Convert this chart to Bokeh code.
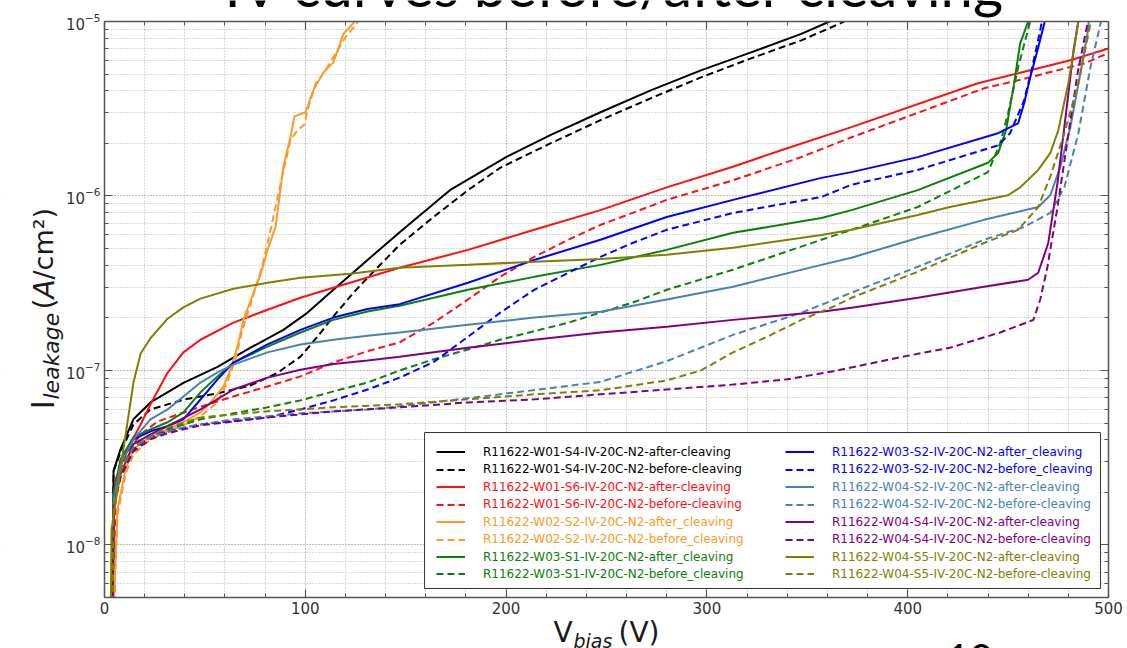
import math
from bokeh.plotting import figure
from bokeh.models import (LinearAxis, LogAxis, Legend, LegendItem, Label, BoxAnnotation,
                          SingleIntervalTicker, LogTicker, Range1d, CustomJSTickFormatter)
from bokeh.embed import file_html
from bokeh.resources import INLINE

# ---------------- data (bias voltage V, leakage current A/cm^2) ----------------
v_w01s4_after = [4, 4.5, 8, 14.4, 22.9, 39.3, 56.3, 72.7, 89.1, 101, 114, 131, 147, 172, 200, 222, 247, 272, 297, 322, 347, 362, 370]
i_w01s4_after = [3e-9, 2.65e-8, 3.54e-8, 5.25e-8, 6.56e-8, 8.5e-8, 1.05e-7, 1.35e-7, 1.71e-7, 2.14e-7, 2.9e-7, 4.3e-7, 6.2e-7, 1.08e-6, 1.67e-6, 2.23e-6, 3.02e-6, 4.03e-6, 5.25e-6, 6.65e-6, 8.5e-6, 1.01e-5, 1.15e-5]

v_w01s4_before = [4, 4.5, 8, 14.4, 22.9, 39.3, 56.3, 72.7, 86.2, 97.6, 106, 114, 124, 131, 147, 164, 181, 197, 222, 247, 272, 297, 322, 347, 366, 374]
i_w01s4_before = [3e-9, 2.65e-8, 3.4e-8, 4.9e-8, 5.98e-8, 6.8e-8, 7.4e-8, 8.2e-8, 9.7e-8, 1.2e-7, 1.56e-7, 2.04e-7, 2.79e-7, 3.4e-7, 5.25e-7, 7.6e-7, 1.08e-6, 1.45e-6, 2.0e-6, 2.72e-6, 3.63e-6, 4.78e-6, 6.15e-6, 7.8e-6, 9.7e-6, 1.08e-5]

v_w01s6_after = [4, 4.8, 5.5, 11.4, 18, 22.9, 31.4, 39.3, 47.8, 64.2, 81.2, 97.6, 114, 147, 181, 214, 247, 280, 313, 337, 372, 435, 455, 481, 500]
i_w01s6_after = [3e-9, 2e-8, 2.38e-8, 3.54e-8, 4.9e-8, 6.4e-8, 9.7e-8, 1.27e-7, 1.5e-7, 1.88e-7, 2.23e-7, 2.61e-7, 2.98e-7, 3.88e-7, 4.91e-7, 6.4e-7, 8.3e-7, 1.12e-6, 1.47e-6, 1.83e-6, 2.48e-6, 4.43e-6, 5.05e-6, 6.0e-6, 7.0e-6]

v_w01s6_before = [5, 5.5, 10.5, 18, 26.4, 47.8, 64.2, 81.2, 97.6, 114, 131, 147, 164, 181, 197, 214, 231, 247, 263, 280, 313, 347, 372, 438, 455, 488, 500]
i_w01s6_before = [3e-9, 1.83e-8, 3.3e-8, 4.3e-8, 5.1e-8, 6.2e-8, 7.1e-8, 8.1e-8, 9.25e-8, 1.11e-7, 1.29e-7, 1.45e-7, 1.88e-7, 2.55e-7, 3.44e-7, 4.48e-7, 5.61e-7, 6.83e-7, 8.0e-7, 9.5e-7, 1.23e-6, 1.67e-6, 2.17e-6, 4.14e-6, 4.6e-6, 5.75e-6, 6.6e-6]

v_w02s2_after = [4, 6.5, 10.5, 14.4, 22.9, 31.4, 39.3, 47.8, 52.8, 59.3, 62.7, 66.2, 69.2, 74.2, 77.7, 81.2, 85.2, 89.1, 92.6, 94.6, 100.1, 104, 109, 114, 119, 125, 130]
i_w02s2_after = [3e-9, 1.61e-8, 2.72e-8, 3.54e-8, 4.2e-8, 4.6e-8, 5.05e-8, 5.75e-8, 6.56e-8, 8.1e-8, 1.01e-7, 1.37e-7, 1.95e-7, 2.79e-7, 3.54e-7, 4.91e-7, 6.65e-7, 1.47e-6, 2.17e-6, 2.86e-6, 3.02e-6, 4.03e-6, 5.11e-6, 5.83e-6, 8.5e-6, 1.01e-5, 1.3e-5]

v_w02s2_before = [4, 6.5, 10.5, 14.4, 22.9, 31.4, 39.3, 47.8, 56.3, 61.3, 65.2, 68.7, 73.7, 78.7, 82.7, 87.6, 92.6, 96.1, 99.6, 101.1, 105, 110, 120, 126, 132]
i_w02s2_before = [3e-9, 1.5e-8, 2.55e-8, 3.31e-8, 4.03e-8, 4.48e-8, 4.85e-8, 5.46e-8, 6.56e-8, 8.65e-8, 1.16e-7, 1.71e-7, 2.61e-7, 4.03e-7, 6.4e-7, 1.16e-6, 2.09e-6, 2.38e-6, 2.58e-6, 3.1e-6, 4.36e-6, 5.25e-6, 8.1e-6, 9.87e-6, 1.2e-5]

v_w03s1_after = [4, 4.5, 8, 14.4, 22.9, 31.4, 39.3, 47.8, 56.3, 64.2, 81.2, 97.6, 114, 131, 147, 181, 214, 247, 280, 313, 357, 372, 405, 440, 445, 449, 453, 456, 460, 462]
i_w03s1_after = [3e-9, 1.95e-8, 3.1e-8, 4.14e-8, 4.6e-8, 5.05e-8, 5.75e-8, 7.5e-8, 9.25e-8, 1.11e-7, 1.37e-7, 1.65e-7, 1.95e-7, 2.18e-7, 2.35e-7, 2.9e-7, 3.44e-7, 4.03e-7, 4.91e-7, 6.15e-7, 7.48e-7, 8.3e-7, 1.08e-6, 1.55e-6, 1.76e-6, 2.38e-6, 4.43e-6, 7.5e-6, 1e-5, 1.2e-5]

v_w03s1_before = [4, 4.5, 8, 14.4, 22.9, 31.4, 47.8, 64.2, 81.2, 97.6, 114, 131, 147, 164, 181, 197, 231, 263, 280, 313, 357, 372, 405, 440, 446, 450, 455, 461, 463]
i_w03s1_before = [3e-9, 1.71e-8, 2.72e-8, 3.68e-8, 4.2e-8, 4.6e-8, 5.25e-8, 5.68e-8, 6.15e-8, 6.74e-8, 7.59e-8, 8.53e-8, 1.0e-7, 1.16e-7, 1.32e-7, 1.5e-7, 1.88e-7, 2.45e-7, 2.9e-7, 3.78e-7, 5.61e-7, 6.4e-7, 8.65e-7, 1.37e-6, 2.0e-6, 2.98e-6, 5.46e-6, 1e-5, 1.2e-5]

v_w03s2_after = [4, 4.5, 8, 14.4, 22.9, 31.4, 39.3, 47.8, 56.3, 64.2, 81.2, 97.6, 114, 131, 147, 181, 214, 247, 280, 313, 357, 372, 405, 445, 455, 458, 461, 465, 468, 469]
i_w03s2_after = [3e-9, 1.83e-8, 2.9e-8, 4.03e-8, 4.48e-8, 4.79e-8, 5.25e-8, 6.82e-8, 8.9e-8, 1.11e-7, 1.41e-7, 1.71e-7, 2.01e-7, 2.25e-7, 2.4e-7, 3.18e-7, 4.3e-7, 5.61e-7, 7.58e-7, 9.5e-7, 1.27e-6, 1.37e-6, 1.67e-6, 2.29e-6, 2.61e-6, 3.4e-6, 4.78e-6, 7.1e-6, 9.7e-6, 1.2e-5]

v_w03s2_before = [4, 4.5, 8, 14.4, 22.9, 31.4, 47.8, 81.2, 97.6, 114, 131, 147, 164, 181, 197, 214, 231, 247, 263, 280, 313, 357, 372, 405, 445, 451, 458, 462, 466, 468]
i_w03s2_before = [3e-9, 1.71e-8, 2.55e-8, 3.54e-8, 4.14e-8, 4.48e-8, 4.91e-8, 5.38e-8, 5.98e-8, 6.74e-8, 7.78e-8, 9.1e-8, 1.12e-7, 1.56e-7, 2.14e-7, 2.9e-7, 3.63e-7, 4.48e-7, 5.38e-7, 6.4e-7, 8.0e-7, 9.87e-7, 1.16e-6, 1.41e-6, 1.95e-6, 2.29e-6, 3.54e-6, 5.46e-6, 8.9e-6, 1.2e-5]

v_w04s2_after = [4, 4.5, 8, 14.4, 22.9, 31.4, 39.3, 47.8, 56.3, 64.2, 81.2, 97.6, 114, 131, 147, 181, 214, 247, 280, 313, 357, 372, 405, 438, 465, 471, 476, 481, 486, 489.5, 491]
i_w04s2_after = [3e-9, 1.83e-8, 2.9e-8, 4.03e-8, 5.25e-8, 5.98e-8, 7.1e-8, 8.53e-8, 9.75e-8, 1.08e-7, 1.27e-7, 1.41e-7, 1.5e-7, 1.58e-7, 1.65e-7, 1.83e-7, 2.01e-7, 2.17e-7, 2.55e-7, 3.02e-7, 4.03e-7, 4.43e-7, 5.75e-7, 7.3e-7, 8.65e-7, 1.01e-6, 1.47e-6, 2.48e-6, 5.05e-6, 8.5e-6, 1.2e-5]

v_w04s2_before = [4, 4.5, 8, 14.4, 22.9, 39.3, 64.2, 97.6, 131, 147, 197, 247, 280, 313, 347, 372, 405, 438, 458, 471, 478, 485, 491, 496, 498]
i_w04s2_before = [3e-9, 1.71e-8, 2.72e-8, 3.63e-8, 4.14e-8, 4.72e-8, 5.25e-8, 5.68e-8, 5.98e-8, 6.23e-8, 7.3e-8, 8.6e-8, 1.13e-7, 1.6e-7, 2.14e-7, 2.79e-7, 3.93e-7, 5.61e-7, 6.65e-7, 8.0e-7, 1.12e-6, 2.29e-6, 5.46e-6, 9.7e-6, 1.2e-5]

v_w04s4_after = [4, 4.5, 8, 14.4, 22.9, 31.4, 47.8, 64.2, 81.2, 97.6, 114, 131, 147, 181, 214, 247, 280, 313, 357, 372, 405, 438, 460, 465, 470, 474.6, 478.6, 482.6, 485, 487]
i_w04s4_after = [3e-9, 1.61e-8, 2.55e-8, 3.78e-8, 4.3e-8, 4.79e-8, 5.98e-8, 7.78e-8, 9.1e-8, 1.01e-7, 1.09e-7, 1.14e-7, 1.2e-7, 1.35e-7, 1.5e-7, 1.65e-7, 1.78e-7, 1.95e-7, 2.17e-7, 2.29e-7, 2.61e-7, 3.02e-7, 3.31e-7, 3.63e-7, 5.38e-7, 1.19e-6, 2.83e-6, 6.83e-6, 1.01e-5, 1.3e-5]

v_w04s4_before = [4, 4.5, 8, 14.4, 22.9, 31.4, 47.8, 81.2, 114, 147, 181, 214, 247, 280, 313, 340, 363, 396, 421, 446, 462.6, 466, 469.6, 474.6, 479.6, 484.6, 489.5, 491]
i_w04s4_before = [3e-9, 1.61e-8, 2.45e-8, 3.44e-8, 4.03e-8, 4.37e-8, 4.85e-8, 5.38e-8, 5.83e-8, 6.15e-8, 6.56e-8, 6.83e-8, 7.3e-8, 7.78e-8, 8.3e-8, 8.9e-8, 9.9e-8, 1.19e-7, 1.35e-7, 1.65e-7, 1.95e-7, 2.55e-7, 3.93e-7, 8.65e-7, 2.09e-6, 5.05e-6, 9.7e-6, 1.2e-5]

v_w04s5_after = [3, 3.5, 6.5, 9, 11.4, 14.4, 18, 22.9, 31.4, 39.3, 47.8, 64.2, 81.2, 97.6, 122.5, 147, 181, 214, 247, 280, 313, 357, 372, 405, 421, 450, 456, 465, 471, 475, 480, 483, 485, 486]
i_w04s5_after = [3e-9, 1.23e-8, 2.09e-8, 3.3e-8, 5.0e-8, 8.5e-8, 1.25e-7, 1.53e-7, 1.98e-7, 2.3e-7, 2.58e-7, 2.94e-7, 3.18e-7, 3.4e-7, 3.58e-7, 3.88e-7, 4.03e-7, 4.2e-7, 4.36e-7, 4.6e-7, 5.05e-7, 5.98e-7, 6.4e-7, 7.78e-7, 8.65e-7, 1.01e-6, 1.12e-6, 1.41e-6, 1.76e-6, 2.38e-6, 4.43e-6, 7.1e-6, 1e-5, 1.2e-5]

v_w04s5_before = [4, 4.5, 8, 14.4, 22.9, 31.4, 47.8, 81.2, 114, 147, 181, 214, 247, 280, 297, 313, 330, 347, 363, 372, 405, 438, 455, 465, 471, 478, 485, 491, 493]
i_w04s5_before = [3e-9, 1.71e-8, 2.65e-8, 3.63e-8, 4.2e-8, 4.72e-8, 5.38e-8, 5.83e-8, 6.15e-8, 6.4e-8, 6.83e-8, 7.3e-8, 7.7e-8, 8.77e-8, 1.0e-7, 1.27e-7, 1.56e-7, 1.95e-7, 2.32e-7, 2.61e-7, 3.68e-7, 5.38e-7, 6.4e-7, 8.65e-7, 1.29e-6, 2.29e-6, 4.43e-6, 9.7e-6, 1.2e-5]

labels = [
    "R11622-W01-S4-IV-20C-N2-after-cleaving",
    "R11622-W01-S4-IV-20C-N2-before-cleaving",
    "R11622-W01-S6-IV-20C-N2-after-cleaving",
    "R11622-W01-S6-IV-20C-N2-before-cleaving",
    "R11622-W02-S2-IV-20C-N2-after_cleaving",
    "R11622-W02-S2-IV-20C-N2-before_cleaving",
    "R11622-W03-S1-IV-20C-N2-after_cleaving",
    "R11622-W03-S1-IV-20C-N2-before_cleaving",
    "R11622-W03-S2-IV-20C-N2-after_cleaving",
    "R11622-W03-S2-IV-20C-N2-before_cleaving",
    "R11622-W04-S2-IV-20C-N2-after-cleaving",
    "R11622-W04-S2-IV-20C-N2-before-cleaving",
    "R11622-W04-S4-IV-20C-N2-after-cleaving",
    "R11622-W04-S4-IV-20C-N2-before-cleaving",
    "R11622-W04-S5-IV-20C-N2-after-cleaving",
    "R11622-W04-S5-IV-20C-N2-before-cleaving",
]
pair_colors = ["#000000", "#ff1010", "#fb9a26", "#0a800a", "#0000ff", "#4682b4", "#800080", "#808000"]

series = [
    (v_w01s4_after, i_w01s4_after), (v_w01s4_before, i_w01s4_before),
    (v_w01s6_after, i_w01s6_after), (v_w01s6_before, i_w01s6_before),
    (v_w02s2_after, i_w02s2_after), (v_w02s2_before, i_w02s2_before),
    (v_w03s1_after, i_w03s1_after), (v_w03s1_before, i_w03s1_before),
    (v_w03s2_after, i_w03s2_after), (v_w03s2_before, i_w03s2_before),
    (v_w04s2_after, i_w04s2_after), (v_w04s2_before, i_w04s2_before),
    (v_w04s4_after, i_w04s4_after), (v_w04s4_before, i_w04s4_before),
    (v_w04s5_after, i_w04s5_after), (v_w04s5_before, i_w04s5_before),
]

X_MIN, X_MAX = 0, 500          # plotted voltage range
Y_MIN, Y_MAX = 5e-9, 1e-5      # plotted current range

# ---------------- geometry: the frame spans the whole canvas; axes are pinned ----------------
W, H = 1127, 648
PL, PR, PT, PB = 104, 1108, 21, 597      # plot-area edges in canvas pixels
px_per_v = (PR - PL) / (X_MAX - X_MIN)
dec = (PB - PT) / (math.log10(Y_MAX) - math.log10(Y_MIN))
xr = Range1d(X_MIN - PL / px_per_v, X_MAX + (W - PR) / px_per_v)
yr = Range1d(10 ** (math.log10(Y_MIN) - (H - PB) / dec), 10 ** (math.log10(Y_MAX) + PT / dec))

p = figure(width=W, height=H, x_range=xr, y_range=yr, y_axis_type="log",
           output_backend="svg", toolbar_location=None,
           min_border_left=0, min_border_right=0, min_border_top=0, min_border_bottom=0)
p.background_fill_color = "white"
p.border_fill_color = "white"
p.outline_line_color = None

bottom_ax = p.xaxis[0]
left_ax = p.yaxis[0]

xt = SingleIntervalTicker(interval=100, num_minor_ticks=5)
bottom_ax.ticker = xt
p.xgrid.ticker = xt
yt = LogTicker(num_minor_ticks=10)
left_ax.ticker = yt
p.ygrid.ticker = yt

blank = CustomJSTickFormatter(code="return ''")
top_ax = LinearAxis(ticker=xt, formatter=blank, major_label_text_font_size="6px", major_label_standoff=0)
right_ax = LogAxis(ticker=yt, formatter=blank, major_label_text_font_size="6px", major_label_standoff=0)
p.add_layout(top_ax, "above")
p.add_layout(right_ax, "right")

bottom_ax.fixed_location = Y_MIN
top_ax.fixed_location = Y_MAX
left_ax.fixed_location = X_MIN
right_ax.fixed_location = X_MAX
for ax in [bottom_ax, top_ax]:
    ax.bounds = (X_MIN, X_MAX)
for ax in [left_ax, right_ax]:
    ax.bounds = (Y_MIN, Y_MAX)

for ax in [bottom_ax, left_ax, top_ax, right_ax]:
    ax.axis_line_color = "#555555"
    ax.axis_line_width = 1.5
    ax.major_tick_line_color = "#555555"
    ax.minor_tick_line_color = "#555555"
    ax.major_tick_line_width = 1.2
    ax.minor_tick_line_width = 1
    ax.major_tick_in = 8
    ax.major_tick_out = 0
    ax.minor_tick_in = 4
    ax.minor_tick_out = 0

for ax in [bottom_ax, left_ax]:
    ax.major_label_text_font = "DejaVu Sans"
    ax.major_label_text_font_size = "15px"
    ax.major_label_text_color = "#333333"
bottom_ax.major_label_standoff = 4
left_ax.major_label_standoff = 4

for g in [p.xgrid[0], p.ygrid[0]]:
    g.grid_line_color = "#b4b4b4"
    g.grid_line_dash = "1 2"
    g.grid_line_width = 1
    g.minor_grid_line_color = "#b4b4b4"
    g.minor_grid_line_dash = "1 2"
    g.minor_grid_line_width = 1

renderers = []
for k, (vv, ii) in enumerate(series):
    col = pair_colors[k // 2]
    dash = "solid" if k % 2 == 0 else "7 4"
    r = p.line(vv, ii, line_color=col, line_width=2, line_dash=dash)
    renderers.append(r)

# white masks outside the plotted ranges (clip lines and grid to the plot area)
far_l, far_r = xr.start - 50, xr.end + 50
far_b, far_t = yr.start / 10, yr.end * 10
masks = [
    BoxAnnotation(left=far_l, right=X_MIN, bottom=far_b, top=far_t),
    BoxAnnotation(left=X_MAX, right=far_r, bottom=far_b, top=far_t),
    BoxAnnotation(left=far_l, right=far_r, bottom=Y_MAX, top=far_t),
    BoxAnnotation(left=far_l, right=far_r, bottom=far_b, top=Y_MIN),
]
for m in masks:
    m.fill_color = "white"
    m.fill_alpha = 1.0
    m.line_alpha = 0
    m.level = "glyph"
    p.renderers.append(m)

# legend frame
p.add_layout(BoxAnnotation(left=159.4, right=496, bottom=5.63e-9, top=4.41e-8,
                           fill_color="white", fill_alpha=1.0,
                           line_color="#333333", line_width=1, line_alpha=1.0))

# legend entries (two columns, coloured text)
for k, r in enumerate(renderers):
    col_i, row_i = k // 8, k % 8
    x_off = 436 if col_i == 0 else 785
    yc = 451.7 + 17.47 * row_i
    y_off = H - (yc + 8.5)
    lg = Legend(items=[LegendItem(label=labels[k], renderers=[r])],
                location=(x_off, y_off), padding=0, margin=0, spacing=0,
                glyph_width=29, glyph_height=17, label_height=17, label_standoff=18,
                label_text_font="DejaVu Sans", label_text_font_size="12px",
                label_text_color=pair_colors[k // 2],
                border_line_alpha=0, background_fill_alpha=0)
    p.add_layout(lg)

# ---------------- texts (canvas pixels, top-left origin) ----------------
def ctext(x, y, text, size, font="DejaVu Sans", style="normal", angle=0.0, align="left", color="#1a1a1a"):
    p.add_layout(Label(x=x, y=y, x_units="canvas", y_units="canvas", text=text,
                       text_font=font, text_font_size=size, text_font_style=style,
                       angle=angle, text_align=align, text_baseline="top",
                       text_color=color))

# title (partly cut by the top of the page)
ctext(615, -51, "IV curves before/after cleaving", "58px", font="Lato", align="center", color="#000000")

# y axis label: I_leakage(A/cm^2)
R = math.pi / 2
ctext(23.3, 409, "I", "32px", angle=R)
ctext(38.6, 399, "leakage", "22px", style="italic", angle=R)
ctext(27, 309, "(", "28px", angle=R)
ctext(27, 298, "A", "28px", style="italic", angle=R)
ctext(27, 279, "/cm²)", "27px", angle=R)

# x axis label: V_bias (V)
ctext(553, 615, "V", "28px")
ctext(573, 629.4, "bias", "19px", style="italic")
ctext(618, 615, "(V)", "28px")

# slide number, cut by the bottom of the page
ctext(946, 643, "10", "40px", font="Lato", color="#000000")

open("out.html", "w").write(file_html(p, INLINE))
